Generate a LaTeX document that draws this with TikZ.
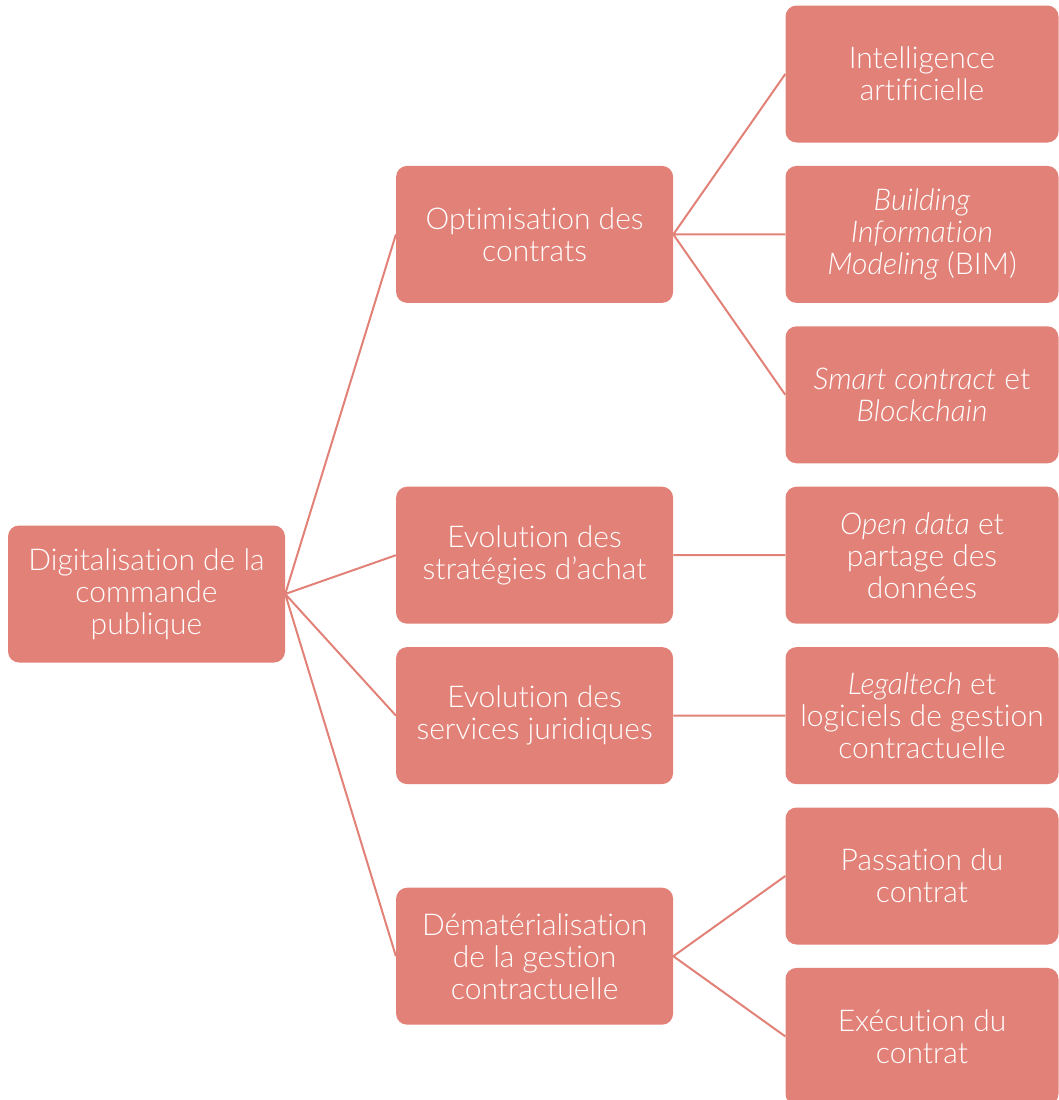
\documentclass[tikz,border=0pt]{standalone}
\usepackage{fontspec}
\setmainfont{Lato Light}[ItalicFont={Lato Light Italic},Ligatures=NoCommon]
\usetikzlibrary{positioning,calc}
\definecolor{salmon}{RGB}{226,129,119}
\tikzset{
  box/.style={fill=salmon, rounded corners=11pt, text=white, align=center,
    minimum width=277pt, minimum height=137pt, inner sep=3pt,
    font=\fontsize{30}{32}\selectfont},
  link/.style={draw=salmon, line width=2pt}
}

\begin{document}
\begin{tikzpicture}[x=1pt,y=-1pt,node distance=23pt]
\useasboundingbox (0,0) rectangle (1059,1100);
% right column
\node[box, minimum width=273pt] (ia) at (922,74) {
  Intelligence\\artificielle
};
\node[box, minimum width=273pt, below=of ia] (bim) {
  \textit{Building}\\\textit{Information}\\\textit{Modeling} (BIM)
};
\node[box, minimum width=273pt, below=of bim] (smart) {
  \textit{Smart contract} et\\\textit{Blockchain}
};
\node[box, minimum width=273pt, below=of smart] (open) {
  \textit{Open data} et\\partage des\\données
};
\node[box, minimum width=273pt, below=of open] (legal) {
  \textit{Legaltech} et\\logiciels de gestion\\contractuelle
};
\node[box, minimum width=273pt, below=of legal] (pass) {
  Passation du\\contrat
};
\node[box, minimum width=273pt, below=of pass] (exec) {
  Exécution du\\contrat
};
\coordinate (mid) at ($(pass.west)!.5!(exec.west)$);
% middle column
\node[box, left=112pt of bim] (optim) {
  Optimisation des\\contrats
};
\node[box, left=112pt of open] (strat) {
  Evolution des\\stratégies d’achat
};
\node[box, left=112pt of legal] (serv) {
  Evolution des\\services juridiques
};
\node[box, left=112pt of mid] (demat) {
  Dématérialisation\\de la gestion\\contractuelle
};
% root
\node[box] (root) at (146.5,594) {
  Digitalisation de la\\commande\\publique
};
\draw[link] (root.east) -- (optim.west)
            (root.east) -- (strat.west)
            (root.east) -- (serv.west)
            (root.east) -- (demat.west);
\draw[link] (optim.east) -- (ia.west)
            (optim.east) -- (bim.west)
            (optim.east) -- (smart.west)
            (strat.east) -- (open.west)
            (serv.east) -- (legal.west)
            (demat.east) -- (pass.west)
            (demat.east) -- (exec.west);
\end{tikzpicture}
\end{document}
